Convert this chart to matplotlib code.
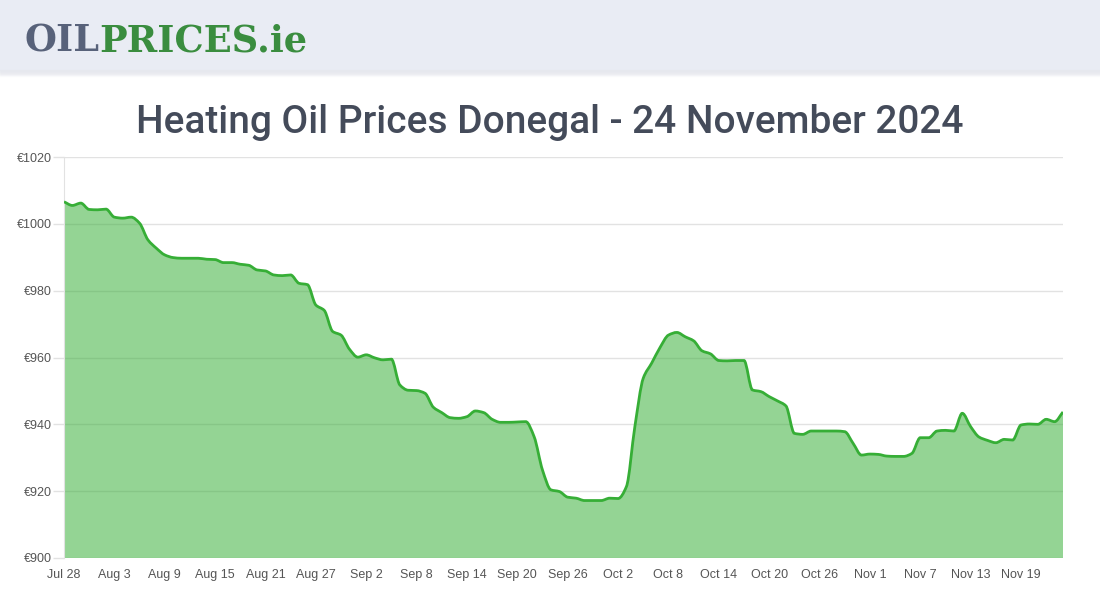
import numpy as np
import pandas as pd
import matplotlib
matplotlib.use("Agg")
import matplotlib.pyplot as plt
import matplotlib.dates as mdates
from matplotlib.path import Path
from matplotlib.patches import PathPatch, Rectangle

# Daily heating oil price (EUR), Donegal, 28 Jul 2024 - 24 Nov 2024
prices = [
    1006.6, 1005.5, 1006.2, 1004.3, 1004.2, 1004.4, 1002.0, 1001.7, 1002.0, 1000.2,
    995.2, 992.7, 990.7, 989.9, 989.7, 989.7, 989.7, 989.4, 989.3, 988.4,
    988.4, 987.9, 987.6, 986.2, 985.9, 984.7, 984.5, 984.7, 982.2, 981.8,
    975.7, 974.1, 967.8, 966.7, 962.5, 960.1, 960.8, 959.9, 959.3, 959.5,
    951.8, 950.2, 950.1, 949.3, 945.1, 943.5, 942.0, 941.8, 942.3, 944.0,
    943.5, 941.5, 940.6, 940.6, 940.7, 940.8, 936.3, 926.3, 920.4, 919.9,
    918.2, 917.9, 917.2, 917.2, 917.2, 917.9, 917.8, 921.4, 939.3, 953.8,
    958.3, 963.0, 966.7, 967.5, 966.2, 965.0, 962.0, 961.1, 959.1, 959.0,
    959.1, 959.1, 950.3, 949.8, 948.3, 947.0, 945.5, 937.3, 937.0, 938.0,
    938.0, 938.0, 938.0, 937.8, 934.3, 930.8, 931.1, 931.0, 930.5, 930.4,
    930.4, 931.3, 936.0, 936.0, 938.0, 938.2, 938.0, 943.3, 939.3, 936.2,
    935.2, 934.5, 935.5, 935.3, 939.8, 940.1, 940.0, 941.5, 940.8, 943.7,
]
dates = pd.date_range("2024-07-28", periods=len(prices), freq="D")

tick_labels = ["Jul 28", "Aug 3", "Aug 9", "Aug 15", "Aug 21", "Aug 27", "Sep 2",
               "Sep 8", "Sep 14", "Sep 20", "Sep 26", "Oct 2", "Oct 8", "Oct 14",
               "Oct 20", "Oct 26", "Nov 1", "Nov 7", "Nov 13", "Nov 19"]
y_ticks = [900, 920, 940, 960, 980, 1000, 1020]

title = "Heating Oil Prices Donegal - 24 November 2024"

line_color = "#36ae36"


def monotone_path(x, y, base=None):
    # smooth curve through the points (monotone cubic, like chart.js)
    x = np.asarray(x, float)
    y = np.asarray(y, float)
    h = np.diff(x)
    d = np.diff(y) / h
    m = np.zeros_like(y)
    m[0], m[-1] = d[0], d[-1]
    for i in range(1, len(y) - 1):
        if d[i - 1] * d[i] <= 0:
            m[i] = 0
        else:
            m[i] = 2 / (1 / d[i - 1] + 1 / d[i])
    verts = [(x[0], y[0])]
    codes = [Path.MOVETO]
    for i in range(len(x) - 1):
        verts += [(x[i] + h[i] / 3, y[i] + m[i] * h[i] / 3),
                  (x[i + 1] - h[i] / 3, y[i + 1] - m[i + 1] * h[i] / 3),
                  (x[i + 1], y[i + 1])]
        codes += [Path.CURVE4] * 3
    if base is not None:
        verts += [(x[-1], base), (x[0], base), (x[0], y[0])]
        codes += [Path.LINETO, Path.LINETO, Path.CLOSEPOLY]
    return Path(verts, codes)


fig = plt.figure(figsize=(11, 6), dpi=100)

# Header band with a soft shadow
fig.patches.append(Rectangle((0, 1 - 70 / 600), 1, 70 / 600,
                             transform=fig.transFigure, color="#e9ecf4", zorder=0))
for k in range(6):
    fig.patches.append(Rectangle((0, 1 - (71 + k) / 600), 1, 1 / 600,
                                 transform=fig.transFigure, color="#e6e8ee",
                                 alpha=0.6 - k * 0.1, zorder=0))

# Logo
logo1 = fig.text(24 / 1100, 1 - 51 / 600, "OIL", fontsize=26.5, fontweight="bold",
                 family="DejaVu Serif", color="#58627a", va="baseline")
fig.canvas.draw()
bb = logo1.get_window_extent()
fig.text(bb.x1 / 1100, 1 - 51 / 600, "PRICES.ie", fontsize=26.5, fontweight="bold",
         family="DejaVu Serif", color="#3a8d3f", va="baseline")

fig.text(0.5, 1 - 133 / 600, title, ha="center", va="baseline",
         fontsize=28, fontweight="medium", color="#444b5a", family="Roboto")

ax = fig.add_axes([64 / 1100, 1 - 558 / 600, (1063 - 64) / 1100, (558 - 157) / 600])

xnum = mdates.date2num(dates)
ax.add_patch(PathPatch(monotone_path(xnum, prices, base=900),
                       facecolor=line_color, alpha=0.53, edgecolor="none", zorder=1))
ax.add_patch(PathPatch(monotone_path(xnum, prices), facecolor="none",
                       edgecolor=line_color, linewidth=2, zorder=3))

ax.set_xlim(xnum[0], xnum[-1])
ax.set_ylim(900, 1020)

tick_pos = xnum[::6][:len(tick_labels)]
ax.set_xticks(tick_pos)
ax.set_xticklabels(tick_labels, family="Liberation Sans")
ax.set_yticks(y_ticks)
ax.set_yticklabels([f"€{v}" for v in y_ticks], family="Liberation Sans")

ax.tick_params(axis="x", length=0, pad=8, labelsize=9, labelcolor="#555555")
ax.tick_params(axis="y", length=8, width=1, color="#e2e2e2", pad=1,
               labelsize=9, labelcolor="#555555")

ax.grid(axis="y", color="#e2e2e2", linewidth=1, zorder=0)
ax.set_axisbelow(True)
for side in ["top", "right", "bottom"]:
    ax.spines[side].set_visible(False)
ax.spines["left"].set_color("#e2e2e2")

plt.savefig("out.png", dpi=100)
